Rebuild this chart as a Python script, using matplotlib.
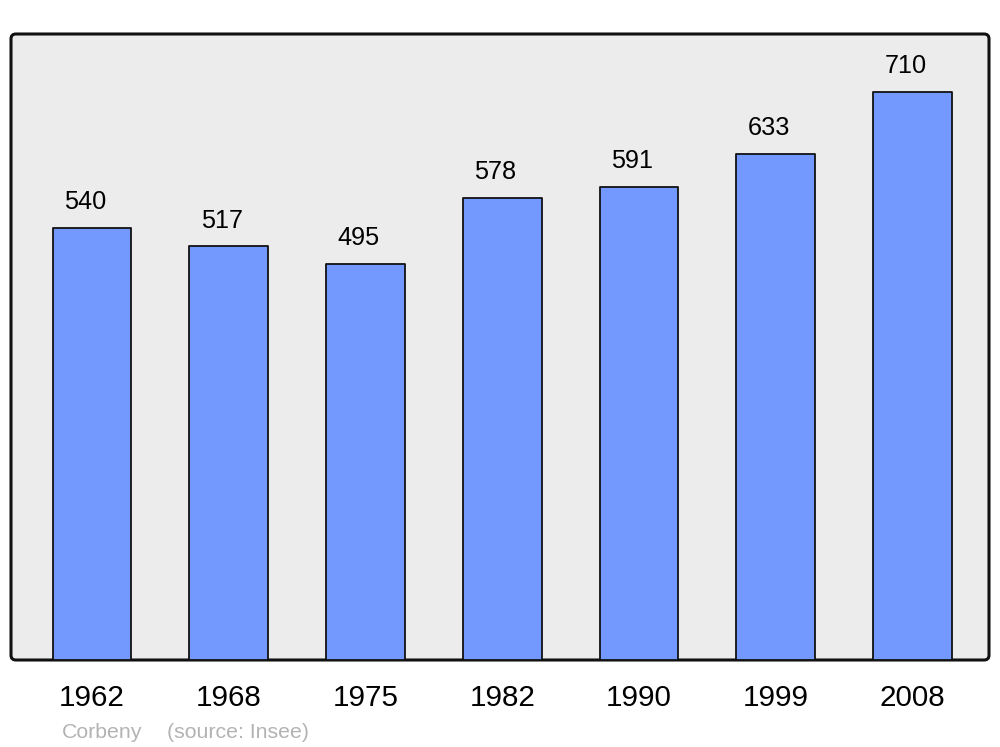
import matplotlib
matplotlib.use('Agg')
import matplotlib.pyplot as plt
from matplotlib.patches import FancyBboxPatch

years = ['1962', '1968', '1975', '1982', '1990', '1999', '2008']
population = [540, 517, 495, 578, 591, 633, 710]

plt.rcParams['font.family'] = ['Liberation Sans', 'DejaVu Sans']

fig = plt.figure(figsize=(10, 7.47), dpi=100)
ax = fig.add_axes([11 / 1000, 87 / 747, 978 / 1000, 626 / 747])
ax.set_facecolor('none')

# background box with rounded corners
aspect = (626 / 747 * 7.47) / (978 / 1000 * 10)
frame = FancyBboxPatch((0, 0), 1, 1, boxstyle='round,pad=0,rounding_size=0.005',
                       mutation_aspect=1 / aspect, transform=ax.transAxes,
                       facecolor='#ececec', edgecolor='#111111', linewidth=2.2,
                       zorder=0, clip_on=False)
ax.add_patch(frame)

x = list(range(len(years)))
ax.bar(x, population, width=0.575, color='#7399ff', edgecolor='#111111',
       linewidth=1.3, joinstyle='round', zorder=2)

for xi, v in zip(x, population):
    ax.annotate(str(v), (xi, v), xytext=(-5, 13.5), textcoords='offset points',
                ha='center', va='baseline', fontsize=18.2, color='black')

ax.set_xlim(-0.592, 6.559)
ax.set_ylim(0, 782.5)
for s in ax.spines.values():
    s.set_visible(False)
ax.set_yticks([])
ax.set_xticks(x)
ax.set_xticklabels(years, fontsize=21.3)
ax.tick_params(axis='x', length=0, pad=17.5)

fig.text(62 / 1000, 1 - 738 / 747, 'Corbeny', fontsize=15.3, color='#b3b3b3', va='baseline')
fig.text(167 / 1000, 1 - 738 / 747, '(source: Insee)', fontsize=15.3, color='#b3b3b3', va='baseline')

fig.savefig('out.png', dpi=100, facecolor='white')
